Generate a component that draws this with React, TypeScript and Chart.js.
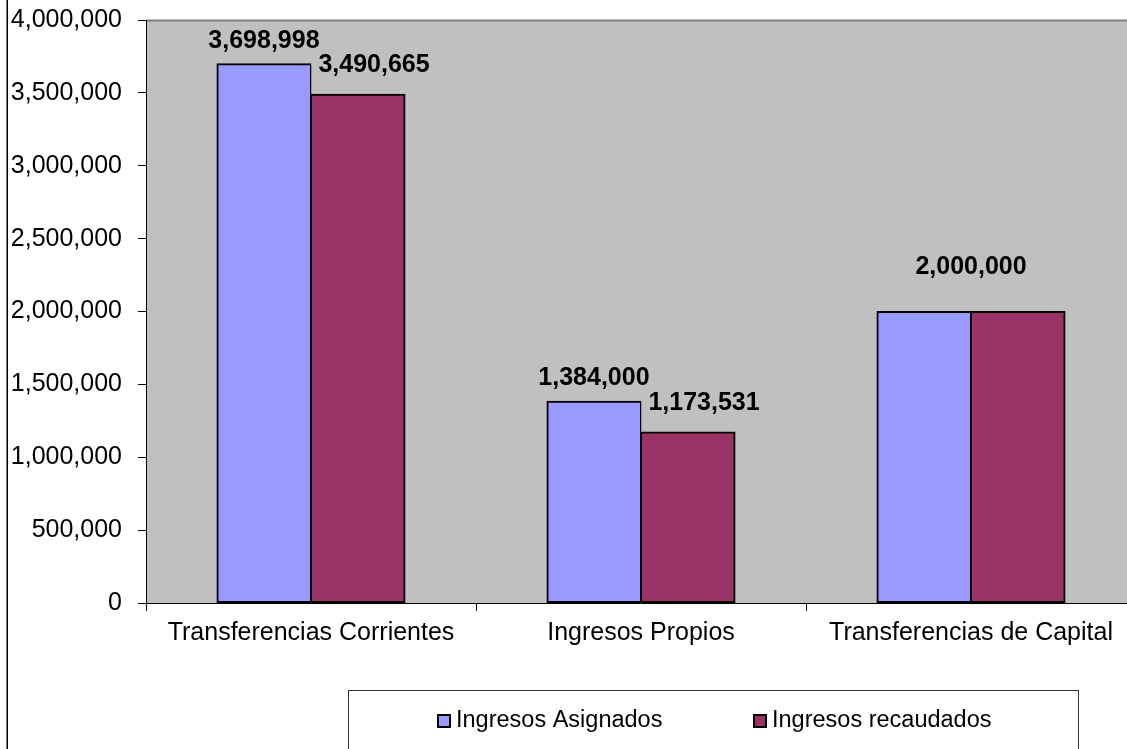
import React, { useEffect, useRef } from "react";
import { Chart, registerables } from "chart.js";

Chart.register(...registerables);

const categories = ["Transferencias Corrientes", "Ingresos Propios", "Transferencias de Capital"];
const asignados = [3698998, 1384000, 2000000];
const recaudados = [3490665, 1173531, 2000000];
const seriesNames = ["Ingresos Asignados", "Ingresos recaudados"];
const seriesColors = ["#9999FF", "#993366"];
const yMin = 0;
const yMax = 4000000;
const yStep = 500000;

const FONT = '"Liberation Sans", Arial, sans-serif';

const fmt = (v: number) => v.toLocaleString("en-US");

const decorPlugin = {
  id: "decor",
  beforeDraw(chart: any) {
    const { ctx, chartArea } = chart;
    ctx.save();
    ctx.fillStyle = "#C0C0C0";
    ctx.fillRect(chartArea.left, chartArea.top, chartArea.right - chartArea.left, chartArea.bottom - chartArea.top);
    ctx.strokeStyle = "#808080";
    ctx.lineWidth = 2;
    ctx.beginPath();
    ctx.moveTo(chartArea.left, chartArea.top + 0.5);
    ctx.lineTo(chartArea.right, chartArea.top + 0.5);
    ctx.stroke();
    ctx.restore();
  },
  afterDraw(chart: any) {
    const { ctx } = chart;
    ctx.save();
    ctx.strokeStyle = "#000";
    ctx.lineWidth = 1.5;
    ctx.beginPath();
    ctx.moveTo(7.25, 0);
    ctx.lineTo(7.25, chart.height);
    ctx.stroke();
    ctx.lineWidth = 1;
    ctx.strokeStyle = "#333";
    ctx.strokeRect(348.5, 690.5, 730, 120);
    const items = [
      { sx: 438, tx: 456 },
      { sx: 754, tx: 772 },
    ];
    ctx.font = `23.5px ${FONT}`;
    ctx.textBaseline = "middle";
    ctx.textAlign = "left";
    chart.data.datasets.forEach((ds: any, i: number) => {
      const it = items[i];
      ctx.fillStyle = ds.backgroundColor;
      ctx.fillRect(it.sx, 715, 12, 12);
      ctx.strokeStyle = "#000";
      ctx.lineWidth = 2;
      ctx.strokeRect(it.sx, 715, 12, 12);
      ctx.fillStyle = "#000";
      ctx.fillText(ds.label, it.tx, 721);
    });
    ctx.restore();
  },
  afterDatasetsDraw(chart: any) {
    const { ctx } = chart;
    const m0 = chart.getDatasetMeta(0);
    const m1 = chart.getDatasetMeta(1);
    const d0 = chart.data.datasets[0].data;
    const d1 = chart.data.datasets[1].data;
    ctx.save();
    ctx.font = `bold 25px ${FONT}`;
    ctx.fillStyle = "#000";
    ctx.textAlign = "center";
    ctx.textBaseline = "alphabetic";
    for (let i = 0; i < d0.length; i++) {
      const b0 = m0.data[i];
      const b1 = m1.data[i];
      if (d0[i] === d1[i]) {
        const cx = (b0.x + b1.x) / 2;
        ctx.fillText(fmt(d0[i]), cx, Math.min(b0.y, b1.y) - 38);
      } else {
        ctx.fillText(fmt(d0[i]), b0.x, b0.y - 16);
        ctx.fillText(fmt(d1[i]), b1.x + 16, b1.y - 22);
      }
    }
    ctx.restore();
  },
};

export default function App() {
  const ref = useRef<HTMLCanvasElement>(null);
  useEffect(() => {
    document.body.style.margin = "0";
    const canvas = ref.current!;
    const chart = new Chart(canvas, {
      type: "bar",
      data: {
        labels: categories,
        datasets: [
          {
            label: seriesNames[0],
            data: asignados,
            backgroundColor: seriesColors[0],
            borderColor: "#000",
            borderWidth: { top: 2, left: 2, bottom: 2, right: 1.5 },
            borderSkipped: false,
            inflateAmount: 0.5,
          },
          {
            label: seriesNames[1],
            data: recaudados,
            backgroundColor: seriesColors[1],
            borderColor: "#000",
            borderWidth: { top: 2, left: 1.5, bottom: 2, right: 2 },
            borderSkipped: false,
            inflateAmount: 0.5,
          },
        ],
      },
      options: {
        responsive: false,
        animation: false,
        devicePixelRatio: 1,
        datasets: { bar: { categoryPercentage: 0.57, barPercentage: 1 } },
        layout: { padding: { top: 20, right: 4, left: 0, bottom: 0 } },
        plugins: { legend: { display: false }, tooltip: { enabled: false } },
        scales: {
          x: {
            grid: { display: true, drawOnChartArea: false, drawTicks: true, tickLength: 8, color: "#000", offset: true },
            border: { display: true, color: "#000", width: 1 },
            ticks: { color: "#000", font: { family: FONT, size: 25 }, padding: 7, maxRotation: 0 },
            afterFit: (s: any) => { s.height = 146; s.paddingLeft = 0; s.paddingRight = 0; },
          },
          y: {
            min: yMin,
            max: yMax,
            grid: { display: true, drawOnChartArea: false, drawTicks: true, tickLength: 8, color: "#000" },
            border: { display: true, color: "#000", width: 1 },
            ticks: {
              stepSize: yStep,
              color: "#000",
              padding: 16,
              font: { family: FONT, size: 25 },
              callback: (v: any) => fmt(Number(v)),
            },
            afterFit: (s: any) => { s.width = 146; s.paddingTop = 0; s.paddingBottom = 0; },
          },
        },
      },
      plugins: [decorPlugin],
    } as any);
    return () => chart.destroy();
  }, []);
  return (
    <div style={{ width: 1127, height: 749, overflow: "hidden", position: "relative", background: "#fff" }}>
      <canvas ref={ref} width={1140} height={749} style={{ display: "block" }} />
    </div>
  );
}
